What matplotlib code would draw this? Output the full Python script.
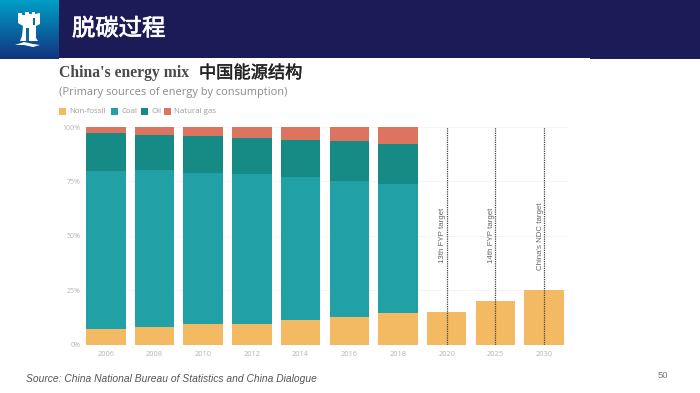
import numpy as np
import matplotlib
matplotlib.use("Agg")
import matplotlib.pyplot as plt
import matplotlib.patheffects as pe
from matplotlib.patches import Rectangle, Polygon

plt.rcParams['font.family'] = ['Noto Sans CJK SC', 'DejaVu Sans']

years = ['2006', '2008', '2010', '2012', '2014', '2016', '2018', '2020', '2025', '2030']
non_fossil = [7.2, 8.2, 9.3, 9.6, 11.1, 12.8, 14.3, 15, 20, 25]
coal = [72.6, 71.9, 69.4, 68.8, 66.0, 62.4, 59.4, 0, 0, 0]
oil = [17.3, 16.4, 17.2, 16.7, 17.1, 18.5, 18.6, 0, 0, 0]
gas = [2.9, 3.5, 4.1, 4.9, 5.8, 6.3, 7.7, 0, 0, 0]
series_names = ['Non-fossil', 'Coal', 'Oil', 'Natural gas']
y_ticks = [0, 25, 50, 75, 100]
target_years = ['2020', '2025', '2030']
target_labels = ['13th FYP target', '14th FYP target', "China's NDC target"]
colors = ['#F4BA63', '#21A0A6', '#168A84', '#DD7460']

W, H = 700, 393
fig = plt.figure(figsize=(7, 3.93), dpi=100, facecolor='white')
bg = fig.add_axes([0, 0, 1, 1])
bg.axis('off')

# Header
bg.add_patch(Rectangle((0, 0), W, 57.5, color='#1B1B57', lw=0))
bg.add_patch(Rectangle((590, 57), 110, 2, color='#1B1B57', lw=0))
grad = np.linspace(0, 1, 64)[:, None]
c0, c1 = np.array([0.0, 0.62, 0.78]), np.array([0.07, 0.2, 0.5])
img = (c0[None, None, :] * (1 - grad[..., None]) + c1[None, None, :] * grad[..., None])
bg.imshow(img, extent=(0, 59, 59, 0), aspect='auto', zorder=2)
bg.set_xlim(0, W)
bg.set_ylim(H, 0)

# Castle logo
castle = [(18, 13), (22, 13), (22, 15), (25, 15), (25, 12), (29, 12), (29, 14), (32, 14), (32, 12),
          (35, 12), (35, 14), (40, 13), (40, 24), (36, 26), (36, 38), (38, 41), (20, 41), (22, 36),
          (23, 26), (18, 23)]
bg.add_patch(Polygon(castle, closed=True, color='white', lw=0, zorder=3))
bg.add_patch(Rectangle((26, 28), 3, 13, color='#0F6A9A', lw=0, zorder=4))
bg.add_patch(Rectangle((33, 18), 2, 7, color='#0F6A9A', lw=0, zorder=4))
bg.add_patch(Polygon([(15, 45), (24, 42), (33, 44), (40, 45), (33, 47), (24, 45)], closed=True,
                     color='white', lw=0, zorder=3))

head = bg.text(72, 29, '脱碳过程', color='white', fontsize=16.8, va='center', ha='left')
head.set_path_effects([pe.withStroke(linewidth=0.5, foreground='white')])

# Titles
bg.text(59, 73, "China's energy mix", family='Liberation Serif', weight='bold', fontsize=11.3,
        color='#4A4A4A', va='center', ha='left')
cn = bg.text(199, 73, '中国能源结构', fontsize=12.4, color='#222222', va='center', ha='left')
cn.set_path_effects([pe.withStroke(linewidth=0.3, foreground='#222222')])
bg.text(59, 92, '(Primary sources of energy by consumption)', family='Open Sans', fontsize=7.9,
        color='#8A8A8A', va='center', ha='left')

# Legend
legend_x = [59, 111, 141, 164]
for lx, name, col in zip(legend_x, series_names, colors):
    bg.add_patch(Rectangle((lx, 107.5), 7, 7.5, color=col, lw=0))
    bg.text(lx + 10, 111.5, name, family='Open Sans', fontsize=5.7, color='#9A9A9A',
            va='center', ha='left')

# Footer
bg.text(26, 379, 'Source: China National Bureau of Statistics and China Dialogue',
        family='Liberation Sans', style='italic', fontsize=7.35, color='#555555', va='center', ha='left')
bg.text(663, 375, '50', family='Liberation Sans', fontsize=6.8, color='#777777', va='center', ha='center')

# Chart
left, right, top, bottom = 83, 568, 127, 344.5
ax = fig.add_axes([left / W, 1 - bottom / H, (right - left) / W, (bottom - top) / H])
ax.patch.set_alpha(0)
x = np.arange(len(years))
step = 48.7
ax.set_xlim((left - 105.8) / step, (right - 105.8) / step)
ax.set_ylim(0, 100)

bottoms = np.zeros(len(years))
for vals, col in zip([non_fossil, coal, oil, gas], colors):
    ax.bar(x, vals, width=0.81, bottom=bottoms, color=col, lw=0, zorder=2)
    bottoms += np.array(vals)

ax.set_yticks(y_ticks)
ax.set_yticklabels([f'{v}%' for v in y_ticks], family='Open Sans', fontsize=5, color='#B5B5B5')
ax.set_xticks(x)
ax.set_xticklabels(years, family='Open Sans', fontsize=5.4, color='#B5B5B5')
ax.tick_params(length=0, pad=5)
ax.tick_params(axis='y', pad=1.5)
ax.grid(axis='y', color='#F4F4F4', lw=0.7, zorder=0)
ax.set_axisbelow(True)
for s in ax.spines.values():
    s.set_visible(False)

label_bottoms = [37.4, 37.4, 34.3]
for yr, lab, yb in zip(target_years, target_labels, label_bottoms):
    xpos = years.index(yr)
    ax.plot([xpos, xpos], [0, 100], color='#444444', lw=0.9, ls=(0, (1, 0.8)), zorder=3)
    ax.text(xpos - 0.01, yb, lab, rotation=90, family='Liberation Sans', fontsize=5.7,
            color='#666666', ha='right', va='bottom', zorder=4)

fig.savefig('out.png', dpi=100)
